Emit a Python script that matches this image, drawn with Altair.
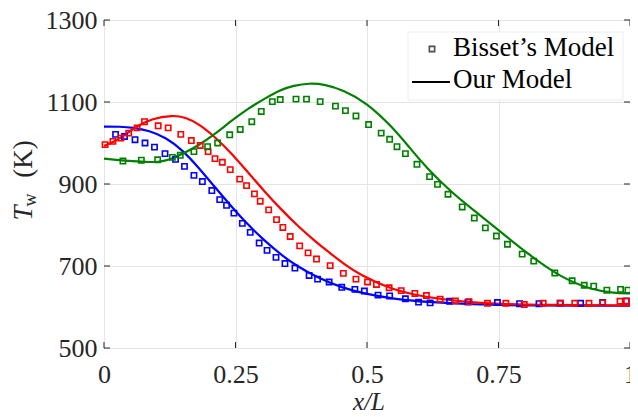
import altair as alt
import pandas as pd

# ---------------- data ----------------
series_names = ["blue", "red", "green"]
series_colors = ["#0000ff", "#ff0000", "#008000"]

# Bisset's Model (open square markers)
blue_mx = [0.022, 0.039, 0.059, 0.078, 0.096, 0.116, 0.136, 0.153, 0.171, 0.187,
           0.205, 0.220, 0.233, 0.247, 0.263, 0.278, 0.295, 0.310, 0.327, 0.344,
           0.363, 0.390, 0.406, 0.428, 0.452, 0.477, 0.495, 0.521, 0.543, 0.573,
           0.598, 0.620, 0.657, 0.692, 0.748, 0.790, 0.827, 0.867, 0.906, 0.948, 0.993]
blue_my = [1021, 1016, 1008, 1000, 990, 974, 960, 943, 921, 906,
           884, 862, 848, 829, 804, 782, 756, 738, 721, 706,
           695, 677, 668, 661, 648, 643, 639, 629, 627, 620,
           612, 610, 614, 612, 611, 608, 608, 609, 609, 611, 615]

red_mx = [0.002, 0.017, 0.032, 0.047, 0.063, 0.077, 0.103, 0.122, 0.146, 0.166,
          0.183, 0.198, 0.211, 0.225, 0.240, 0.258, 0.271, 0.286, 0.297, 0.313,
          0.328, 0.340, 0.354, 0.372, 0.388, 0.404, 0.430, 0.455, 0.479, 0.501,
          0.518, 0.542, 0.565, 0.591, 0.613, 0.639, 0.668, 0.694, 0.729, 0.764,
          0.799, 0.835, 0.868, 0.895, 0.922, 0.948, 0.981, 0.993]
red_my = [996, 1004, 1012, 1024, 1037, 1052, 1042, 1037, 1021, 1006,
          994, 979, 962, 953, 935, 912, 896, 876, 858, 837,
          813, 794, 772, 749, 732, 717, 701, 682, 668, 661,
          655, 647, 640, 633, 628, 619, 615, 613, 609, 609,
          606, 609, 609, 609, 609, 610, 614, 614]

green_mx = [0.036, 0.071, 0.102, 0.130, 0.145, 0.171, 0.197, 0.216, 0.239, 0.259,
            0.281, 0.299, 0.320, 0.335, 0.365, 0.385, 0.411, 0.440, 0.459, 0.479,
            0.503, 0.527, 0.543, 0.557, 0.573, 0.595, 0.619, 0.634, 0.654, 0.681,
            0.704, 0.725, 0.746, 0.767, 0.795, 0.817, 0.857, 0.890, 0.913, 0.931,
            0.956, 0.982, 0.996]
green_my = [956, 958, 959, 965, 970, 979, 991, 1000, 1020, 1033,
            1052, 1077, 1101, 1106, 1107, 1107, 1101, 1090, 1079, 1066,
            1045, 1024, 1009, 991, 974, 948, 918, 899, 875, 844,
            817, 793, 773, 753, 729, 712, 683, 664, 653, 651,
            641, 643, 641]

# Our Model (solid lines)
blue_lx = [0, 0.03, 0.055, 0.086, 0.118, 0.149, 0.18, 0.211, 0.243, 0.274, 0.305,
           0.34, 0.368, 0.405, 0.452, 0.5, 0.55, 0.612, 0.7, 0.8, 0.9, 1.0]
blue_ly = [1040, 1040, 1038, 1030, 1013, 983, 940, 892, 844, 800, 762,
           724, 699, 672, 647, 631, 620, 612, 606, 604, 603, 603]

red_lx = [0, 0.02, 0.04, 0.06, 0.09, 0.13, 0.155, 0.18, 0.211, 0.243, 0.274, 0.305,
          0.336, 0.368, 0.4, 0.424, 0.458, 0.487, 0.549, 0.612, 0.68, 0.75, 0.85, 1.0]
red_ly = [993, 1003, 1020, 1039, 1059, 1068, 1063, 1047, 1015, 974, 928, 882,
          839, 798, 762, 737, 703, 678, 641, 624, 613, 607, 605, 604]

green_lx = [0, 0.03, 0.055, 0.08, 0.102, 0.125, 0.149, 0.18, 0.211, 0.243, 0.274,
            0.305, 0.336, 0.36, 0.39, 0.42, 0.455, 0.499, 0.549, 0.58, 0.612, 0.662,
            0.705, 0.743, 0.805, 0.868, 0.929, 0.97, 1.0]
green_ly = [962, 958, 956, 954, 953, 959, 973, 994, 1022, 1055, 1084,
            1108, 1130, 1140, 1146, 1143, 1129, 1099, 1038, 990, 941, 878,
            834, 795, 730, 672, 641, 634, 633]

x_ticks = [0, 0.25, 0.5, 0.75, 1]
y_ticks = [500, 700, 900, 1100, 1300]

legend_labels = ["Bisset\u2019s Model", "Our Model"]

# ---------------- tables ----------------
def table(xs, ys, name):
    return pd.DataFrame({"x": xs, "T": ys, "s": name})

markers = pd.concat([table(blue_mx, blue_my, "blue"),
                     table(red_mx, red_my, "red"),
                     table(green_mx, green_my, "green")])
lines = pd.concat([table(blue_lx, blue_ly, "blue"),
                   table(red_lx, red_ly, "red"),
                   table(green_lx, green_ly, "green")])

W, H = 526, 328
FONT = "Liberation Serif, Times New Roman, serif"
INK = "#262626"

xs = alt.Scale(domain=[0, 1], nice=False, zero=False)
ys = alt.Scale(domain=[500, 1300], nice=False, zero=False)
cs = alt.Scale(domain=series_names, range=series_colors)

x_axis = alt.Axis(values=x_ticks, title=None, format=".2~f", grid=True,
                  labelFlush=False, labelPadding=13)
y_axis = alt.Axis(values=y_ticks, title=None, format="d", grid=True, labelPadding=7)

line_layer = alt.Chart(lines).mark_line(strokeWidth=2.2, interpolate="basis").encode(
    x=alt.X("x:Q", scale=xs, axis=x_axis),
    y=alt.Y("T:Q", scale=ys, axis=y_axis),
    color=alt.Color("s:N", scale=cs, legend=None),
    detail="s:N",
)

marker_layer = alt.Chart(markers).mark_point(
    shape="square", filled=False, size=28, strokeWidth=1.6, opacity=1
).encode(
    x=alt.X("x:Q", scale=xs),
    y=alt.Y("T:Q", scale=ys),
    color=alt.Color("s:N", scale=cs, legend=None),
)

# inward ticks on all four sides
xt = pd.DataFrame({"v": x_ticks})
yt = pd.DataFrame({"v": y_ticks})
tick_bottom = alt.Chart(xt).mark_rule(color=INK, strokeWidth=1).encode(
    x=alt.X("v:Q", scale=xs), y=alt.value(H), y2=alt.value(H - 6))
tick_top = alt.Chart(xt).mark_rule(color=INK, strokeWidth=1).encode(
    x=alt.X("v:Q", scale=xs), y=alt.value(0), y2=alt.value(6))
tick_left = alt.Chart(yt).mark_rule(color=INK, strokeWidth=1).encode(
    y=alt.Y("v:Q", scale=ys), x=alt.value(0), x2=alt.value(6))
tick_right = alt.Chart(yt).mark_rule(color=INK, strokeWidth=1).encode(
    y=alt.Y("v:Q", scale=ys), x=alt.value(W), x2=alt.value(W - 6))

# legend box
one = pd.DataFrame({"a": [0]})
leg_box = alt.Chart(one).mark_rect(fill="white", stroke="#ececec", strokeWidth=1).encode(
    x=alt.value(304), x2=alt.value(519), y=alt.value(12), y2=alt.value(80))
leg_sq = alt.Chart(one).mark_point(shape="square", filled=False, size=28,
                                   strokeWidth=1.6, color="black").encode(
    x=alt.value(328), y=alt.value(29))
leg_line = alt.Chart(one).mark_rule(color="black", strokeWidth=2).encode(
    x=alt.value(308), x2=alt.value(346), y=alt.value(62))
leg_t1 = alt.Chart(one).mark_text(text=legend_labels[0], font=FONT, fontSize=27,
                                  align="left", baseline="alphabetic", color="black").encode(
    x=alt.value(349), y=alt.value(36))
leg_t2 = alt.Chart(one).mark_text(text=legend_labels[1], font=FONT, fontSize=27,
                                  align="left", baseline="alphabetic", color="black").encode(
    x=alt.value(349), y=alt.value(68))

# axis titles
xt_title = alt.Chart(one).mark_text(text="x/L", font=FONT, fontSize=25, fontStyle="italic",
                                    align="center", baseline="alphabetic", color=INK).encode(
    x=alt.value(W / 2 + 2), y=alt.value(390))
yt_T = alt.Chart(one).mark_text(text="T", font=FONT, fontSize=27, fontStyle="italic",
                                angle=270, align="center", baseline="alphabetic", color=INK).encode(
    x=alt.value(-72), y=alt.value(193))
yt_w = alt.Chart(one).mark_text(text="w", font=FONT, fontSize=18,
                                angle=270, align="center", baseline="alphabetic", color=INK).encode(
    x=alt.value(-68), y=alt.value(180))
yt_K = alt.Chart(one).mark_text(text="(K)", font=FONT, fontSize=27,
                                angle=270, align="center", baseline="alphabetic", color=INK).encode(
    x=alt.value(-72), y=alt.value(139))

chart = alt.layer(
    line_layer, marker_layer,
    tick_bottom, tick_top, tick_left, tick_right,
    leg_box, leg_sq, leg_line, leg_t1, leg_t2,
    xt_title, yt_T, yt_w, yt_K,
).properties(
    width=W, height=H,
    autosize=alt.AutoSizeParams(type="none"),
    padding={"left": 96, "top": 12, "right": 0, "bottom": 69},
).configure_view(
    stroke=INK, strokeWidth=1
).configure_axis(
    labelFont=FONT, labelFontSize=26, labelColor=INK,
    gridColor="#e4e4e4", gridWidth=1, domain=False, ticks=False,
)

chart.save("out.html", embed_options={"renderer": "svg", "actions": False})
